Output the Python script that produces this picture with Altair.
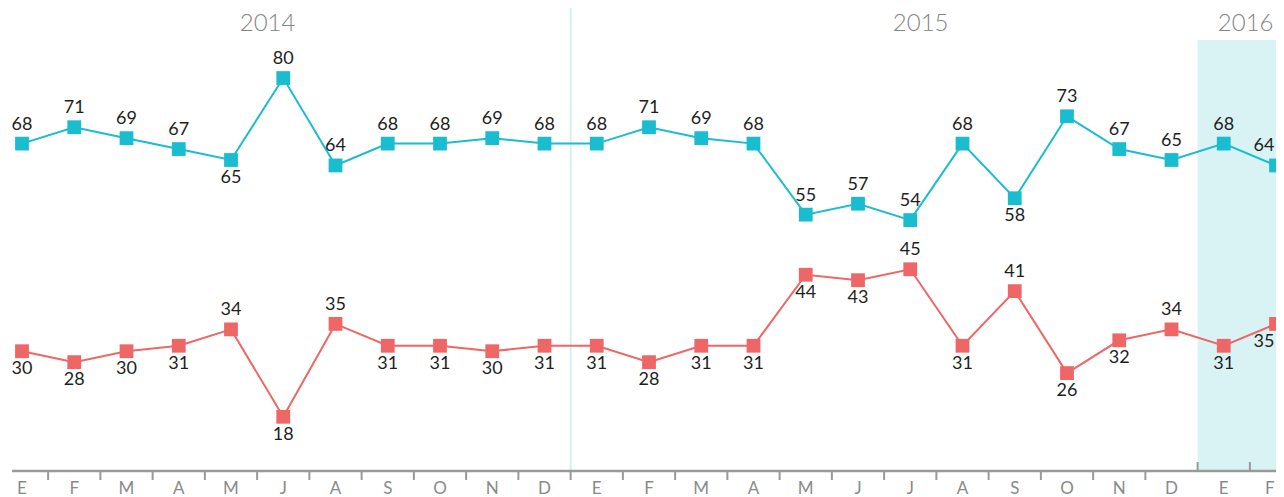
import altair as alt
import pandas as pd

# ---- data ----
months = ["E", "F", "M", "A", "M", "J", "A", "S", "O", "N", "D",
          "E", "F", "M", "A", "M", "J", "J", "A", "S", "O", "N", "D",
          "E", "F"]
blue_vals = [68, 71, 69, 67, 65, 80, 64, 68, 68, 69, 68,
             68, 71, 69, 68, 55, 57, 54, 68, 58, 73, 67, 65,
             68, 64]
red_vals = [30, 28, 30, 31, 34, 18, 35, 31, 31, 30, 31,
            31, 28, 31, 31, 44, 43, 45, 31, 41, 26, 32, 34,
            31, 35]
years = ["2014", "2015", "2016"]
year_centres = [4.7, 17.2, 23.42]       # in month-index units
blue_below = [4, 19]                     # blue labels drawn under the point
red_above = [4, 6, 17, 19, 22]           # red labels drawn over the point
divider_at = 10.5                        # boundary 2014 | 2015
band_start = 22.5                        # shaded 2016 band

BLUE = "#19bdcf"
RED = "#ef6666"
GREY = "#9a9a9a"

W, H = 1268, 463
PB = 26
STEP = 52.25                             # px per month in the reference
X0 = -14 / STEP
X_DOM = [X0, X0 + W / STEP]
Y_DOM = [8.08, 92.82]
PXU = H / (Y_DOM[1] - Y_DOM[0])         # pixels per y unit
EDGE = X_DOM[1] - 1.5 / STEP            # right edge for texts at the last month
LAST = len(months) - 1


def yv(px_from_top):
    """value at a given pixel offset from the plot top"""
    return Y_DOM[1] - px_from_top / PXU


n = len(months)
df = pd.DataFrame({"i": list(range(n)), "month": months,
                   "blue": blue_vals, "red": red_vals})
df["lx"] = [EDGE if k == LAST else k for k in df.i]
df["ly"] = yv(H + 18)
long = pd.concat([
    pd.DataFrame({"i": df.i, "v": df.blue, "s": "blue",
                  "below": [k in blue_below for k in df.i]}),
    pd.DataFrame({"i": df.i, "v": df.red, "s": "red",
                  "below": [k not in red_above for k in df.i]}),
])
long["lx"] = [EDGE if k == LAST else k for k in long.i]

xs = alt.Scale(domain=X_DOM, nice=False, zero=False)
ys = alt.Scale(domain=Y_DOM, nice=False, zero=False)
col = alt.Color("s:N", scale=alt.Scale(domain=["blue", "red"], range=[BLUE, RED]), legend=None)

base_axis_y = Y_DOM[0]

band = alt.Chart(pd.DataFrame({"a": [band_start], "b": [X_DOM[1]],
                               "t": [yv(32)], "bt": [base_axis_y]})).mark_rect(
    color="#d9f3f5").encode(
    x=alt.X("a:Q", scale=xs, axis=None), x2="b:Q",
    y=alt.Y("t:Q", scale=ys, axis=None), y2="bt:Q")

divider = alt.Chart(pd.DataFrame({"a": [divider_at], "t": [yv(-4)], "bt": [base_axis_y]})).mark_rule(
    color="#d6f1f4", strokeWidth=2).encode(
    x=alt.X("a:Q", scale=xs), y=alt.Y("t:Q", scale=ys), y2="bt:Q")

axis_line = alt.Chart(pd.DataFrame({"a": [-0.19], "b": [X_DOM[1]], "y": [base_axis_y]})).mark_rule(
    color=GREY, strokeWidth=2.5).encode(
    x=alt.X("a:Q", scale=xs), x2="b:Q", y=alt.Y("y:Q", scale=ys))

tick_pos = [k + 0.5 for k in range(n - 1)]
ticks_df = pd.DataFrame({
    "x": tick_pos,
    "y": [base_axis_y] * len(tick_pos),
    "y2": [base_axis_y + (9 / PXU if p > band_start - 0.01 else -9 / PXU) for p in tick_pos],
})
ticks = alt.Chart(ticks_df).mark_rule(color=GREY, strokeWidth=2).encode(
    x=alt.X("x:Q", scale=xs), y=alt.Y("y:Q", scale=ys), y2="y2:Q")

m_style = dict(font="Lato", fontSize=17, fontWeight="normal", color="#8a8a8a", baseline="middle")
month_mid = alt.Chart(df).transform_filter(f"datum.i < {LAST}").mark_text(
    align="center", **m_style).encode(
    x=alt.X("i:Q", scale=xs), y=alt.Y("ly:Q", scale=ys), text="month:N")
month_end = alt.Chart(df).transform_filter(f"datum.i == {LAST}").mark_text(
    align="right", **m_style).encode(
    x=alt.X("lx:Q", scale=xs), y=alt.Y("ly:Q", scale=ys), text="month:N")

year_lbl = alt.Chart(pd.DataFrame({"x": year_centres, "t": years, "y": [yv(15.5)] * 3})).mark_text(
    font="Lato", fontSize=24, fontWeight=300, color="#858585", baseline="middle").encode(
    x=alt.X("x:Q", scale=xs), y=alt.Y("y:Q", scale=ys), text="t:N")

lines = alt.Chart(long).mark_line(strokeWidth=2).encode(
    x=alt.X("i:Q", scale=xs), y=alt.Y("v:Q", scale=ys), color=col, detail="s:N")

points = alt.Chart(long).mark_point(shape="square", filled=True, size=190, opacity=1).encode(
    x=alt.X("i:Q", scale=xs), y=alt.Y("v:Q", scale=ys), color=col)

lbl_style = dict(font="Lato", fontSize=18, color="#1e1e1e", baseline="middle")


def labels(cond, dy):
    mid = alt.Chart(long).transform_filter(f"({cond}) && datum.i < {LAST}").mark_text(
        dy=dy, align="center", **lbl_style).encode(
        x=alt.X("i:Q", scale=xs), y=alt.Y("v:Q", scale=ys), text="v:Q")
    end = alt.Chart(long).transform_filter(f"({cond}) && datum.i == {LAST}").mark_text(
        dy=dy, align="right", **lbl_style).encode(
        x=alt.X("lx:Q", scale=xs), y=alt.Y("v:Q", scale=ys), text="v:Q")
    return [mid, end]


layers = [band, divider, axis_line, ticks, month_mid, month_end, year_lbl, lines, points]
layers += labels("!datum.below", -19) + labels("datum.below", 18)

chart = alt.layer(*layers).properties(
    width=W, height=H,
    autosize=alt.AutoSizeParams(type="none"),
    padding={"left": 0, "top": 0, "right": 0, "bottom": PB},
).configure_view(stroke=None)

chart.save("out.html", embed_options={"renderer": "svg", "actions": False})
